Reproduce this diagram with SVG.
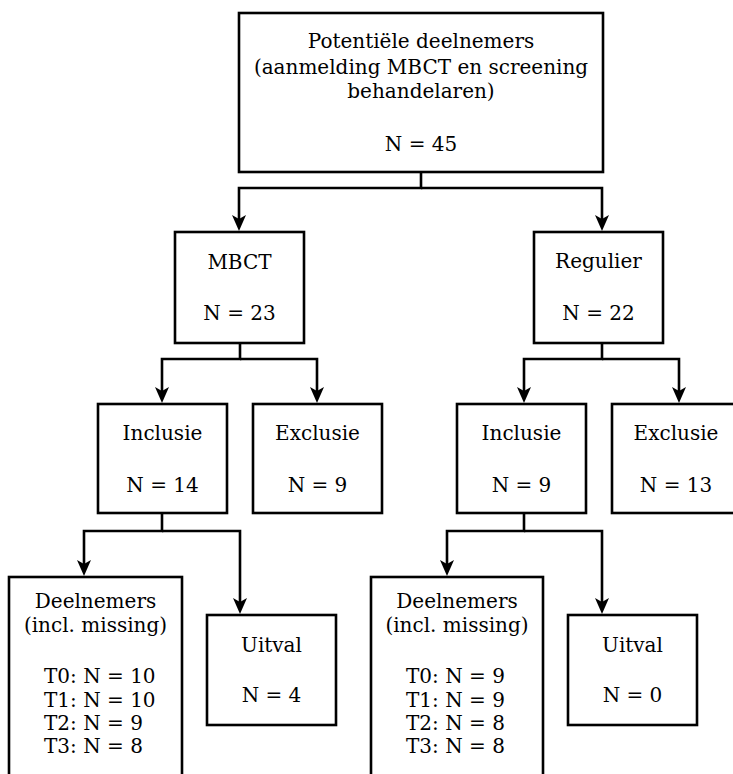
<svg xmlns="http://www.w3.org/2000/svg" width="733" height="774" viewBox="0 0 733 774">
<style>
.box{fill:#fff;stroke:#000;stroke-width:2.6}
.con{fill:none;stroke:#000;stroke-width:2.6}
text{font-family:"DejaVu Serif","Liberation Serif",serif;font-size:20px;fill:#000}
.c{text-anchor:middle}
</style>
<defs>
<marker id="arr" markerUnits="userSpaceOnUse" markerWidth="20" markerHeight="16" viewBox="0 0 20 16" refX="10" refY="8" orient="auto" overflow="visible">
<path d="M18,8 L2,1 L6,8 L2,15 Z" fill="#000"/>
</marker>
</defs>
<rect width="733" height="774" fill="#fff"/>
<g id="connectors">
<path class="con" d="M421,172 V188 H239 V223" marker-end="url(#arr)"/>
<path class="con" d="M421,188 H602 V223" marker-end="url(#arr)"/>
<path class="con" d="M240,343 V359 H162 V395" marker-end="url(#arr)"/>
<path class="con" d="M240,359 H317 V395" marker-end="url(#arr)"/>
<path class="con" d="M602,343 V359 H524 V395" marker-end="url(#arr)"/>
<path class="con" d="M602,359 H679 V395" marker-end="url(#arr)"/>
<path class="con" d="M162,513 V531 H84 V568" marker-end="url(#arr)"/>
<path class="con" d="M162,531 H240 V606" marker-end="url(#arr)"/>
<path class="con" d="M524,513 V531 H447 V568" marker-end="url(#arr)"/>
<path class="con" d="M524,531 H602 V606" marker-end="url(#arr)"/>
</g>
<g id="potentiele">
<rect class="box" x="239" y="13" width="364" height="159"/>
<text class="c" x="421" y="48">Potentiële deelnemers</text>
<text class="c" x="421" y="74">(aanmelding MBCT en screening</text>
<text class="c" x="421" y="98">behandelaren)</text>
<text class="c" x="421" y="151">N = 45</text>
</g>
<g id="mbct">
<rect class="box" x="175" y="232" width="129" height="111"/>
<text class="c" x="239.5" y="269">MBCT</text>
<text class="c" x="239.5" y="320">N = 23</text>
</g>
<g id="regulier">
<rect class="box" x="534" y="232" width="129" height="111"/>
<text class="c" x="598.5" y="268">Regulier</text>
<text class="c" x="598.5" y="320">N = 22</text>
</g>
<g id="inclusie-mbct">
<rect class="box" x="98" y="404" width="129" height="109"/>
<text class="c" x="162.5" y="440">Inclusie</text>
<text class="c" x="162.5" y="492">N = 14</text>
</g>
<g id="exclusie-mbct">
<rect class="box" x="253" y="404" width="129" height="109"/>
<text class="c" x="317.5" y="440">Exclusie</text>
<text class="c" x="317.5" y="492">N = 9</text>
</g>
<g id="inclusie-regulier">
<rect class="box" x="457" y="404" width="129" height="109"/>
<text class="c" x="521.5" y="440">Inclusie</text>
<text class="c" x="521.5" y="492">N = 9</text>
</g>
<g id="exclusie-regulier">
<rect class="box" x="612" y="404" width="129" height="109"/>
<text class="c" x="676" y="440">Exclusie</text>
<text class="c" x="676" y="492">N = 13</text>
</g>
<g id="deelnemers-mbct">
<rect class="box" x="9" y="577" width="173" height="210"/>
<text class="c" x="95.5" y="608">Deelnemers</text>
<text class="c" x="95.5" y="632">(incl. missing)</text>
<text x="44" y="683">T0: N = 10</text>
<text x="44" y="707">T1: N = 10</text>
<text x="44" y="730">T2: N = 9</text>
<text x="44" y="753">T3: N = 8</text>
</g>
<g id="uitval-mbct">
<rect class="box" x="207" y="615" width="129" height="110"/>
<text class="c" x="271.5" y="652">Uitval</text>
<text class="c" x="271.5" y="702">N = 4</text>
</g>
<g id="deelnemers-regulier">
<rect class="box" x="371" y="577" width="172" height="210"/>
<text class="c" x="457" y="608">Deelnemers</text>
<text class="c" x="457" y="632">(incl. missing)</text>
<text x="406" y="683">T0: N = 9</text>
<text x="406" y="707">T1: N = 9</text>
<text x="406" y="730">T2: N = 8</text>
<text x="406" y="753">T3: N = 8</text>
</g>
<g id="uitval-regulier">
<rect class="box" x="568" y="615" width="129" height="110"/>
<text class="c" x="632.5" y="652">Uitval</text>
<text class="c" x="632.5" y="702">N = 0</text>
</g>
</svg>
